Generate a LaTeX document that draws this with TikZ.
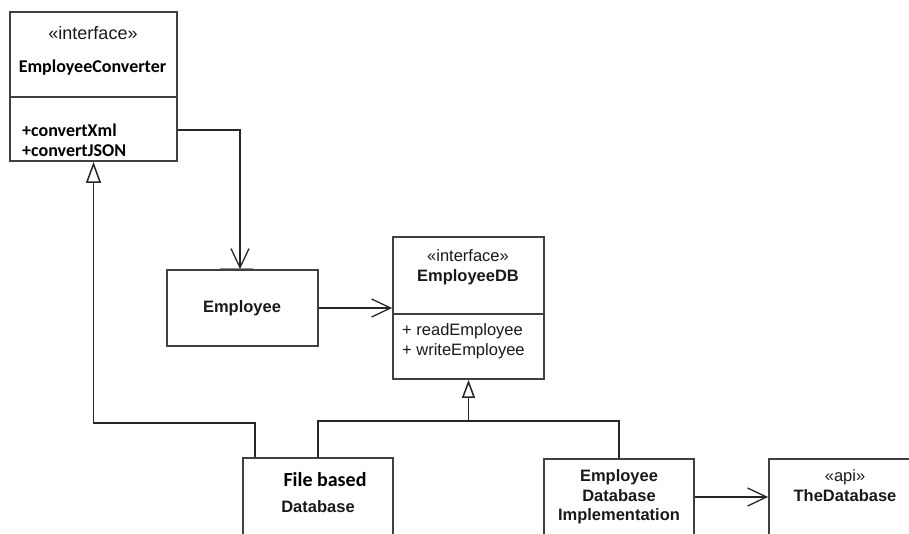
\documentclass[tikz,border=0pt]{standalone}
\usepackage{fontspec}
\setmainfont{Liberation Sans}
\newfontfamily\calib{Carlito}
\usetikzlibrary{arrows.meta,calc}

\tikzset{
  classbox/.style={draw=black!75, line width=1.8pt, inner sep=0pt, fill=none},
  lbl/.style={inner sep=0pt, text=black!90, font=\fontsize{16.5}{19.5}\selectfont},
  lblb/.style={lbl, font=\fontsize{16.5}{19.5}\selectfont\bfseries},
  cal/.style={inner sep=0pt, text=black, font=\calib\fontsize{18}{21}\selectfont\bfseries},
  wire/.style={draw=black!85, line width=1.4pt},
  assoc/.style={wire, -{Straight Barb[length=19pt,width=18pt,line width=1.3pt]}},
  gen/.style={wire, -{Triangle[open,length=21pt,width=15pt,fill=white,line width=1.5pt]}},
  gensmall/.style={wire, -{Triangle[open,length=18pt,width=13pt,fill=white,line width=1.5pt]}},
}

\begin{document}
\begin{tikzpicture}[x=1pt,y=-1pt]
  \useasboundingbox (0,0) rectangle (909,533);
  \clip (0,0) rectangle (909,533);

  % class boxes
  \node[classbox, minimum width=167pt, minimum height=149pt] (conv) at (93.5,86.5) {};
  \node[classbox, minimum width=151pt, minimum height=76pt]  (emp)  at (242.5,308) {};
  \node[classbox, minimum width=151pt, minimum height=142pt] (edb)  at (468.5,308) {};
  \node[classbox, minimum width=150pt, minimum height=110pt] (fdb)  at (318,513) {};
  \node[classbox, minimum width=150pt, minimum height=110pt] (impl) at (619,514) {};
  \node[classbox, minimum width=152pt, minimum height=110pt] (thedb) at (845,514) {};

  % compartment dividers
  \draw[classbox] (conv.west |- 0,97) -- (conv.east |- 0,97);
  \draw[classbox] (edb.west |- 0,314) -- (edb.east |- 0,314);

  % EmployeeConverter contents
  \node[lbl, font=\fontsize{18}{21}\selectfont] (convst) at (93,33) {«interface»};
  \node[cal] (convname) at (92.5,68) {EmployeeConverter};
  \node[cal, anchor=west] (convm1) at (22,130) {+convertXml};
  \node[cal, anchor=west] (convm2) at (22,151) {+convertJSON};

  % Employee
  \node[lblb] (empname) at (242,308) {Employee};

  % EmployeeDB contents
  \node[lbl] (edbst) at (468,256) {«interface»};
  \node[lblb] (edbname) at (468,277) {EmployeeDB};
  \node[lbl, anchor=west] (edbm1) at (402,331) {+ readEmployee};
  \node[lbl, anchor=west] (edbm2) at (402,351) {+ writeEmployee};

  % File based Database
  \node[cal, font=\calib\fontsize{20}{23}\selectfont\bfseries] (fdbname1) at (325,480) {File based};
  \node[lblb] (fdbname2) at (318,507) {Database};

  % Employee Database Implementation
  \node[lblb, align=center] (implname) at (619,497) {Employee\\Database\\Implementation};

  % TheDatabase
  \node[lbl] (thedbst) at (845,477) {«api»};
  \node[lblb] (thedbname) at (845,496) {TheDatabase};

  % connectors
  \coordinate (join) at ($(edb.south)+(0,41)$);
  \coordinate (bend) at ($(conv.south)+(0,261)$);

  \draw[assoc] ([yshift=-43.5pt]conv.east) -| ([xshift=-2.5pt]emp.north);
  \draw[draw=black!45, line width=1.2pt] ([xshift=-22.5pt,yshift=1pt]emp.north) -- ([xshift=10.5pt,yshift=1pt]emp.north);
  \draw[assoc] (emp.east) -- (edb.west);
  \draw[gensmall] (fdb.north) |- (join) -- (edb.south);
  \draw[wire] (impl.north) |- (join);
  \draw[gen] ([xshift=-63pt]fdb.north) |- (bend) -- (conv.south);
  \draw[assoc] ([yshift=17pt]impl.east) -- ([yshift=17pt]thedb.west);
\end{tikzpicture}
\end{document}
